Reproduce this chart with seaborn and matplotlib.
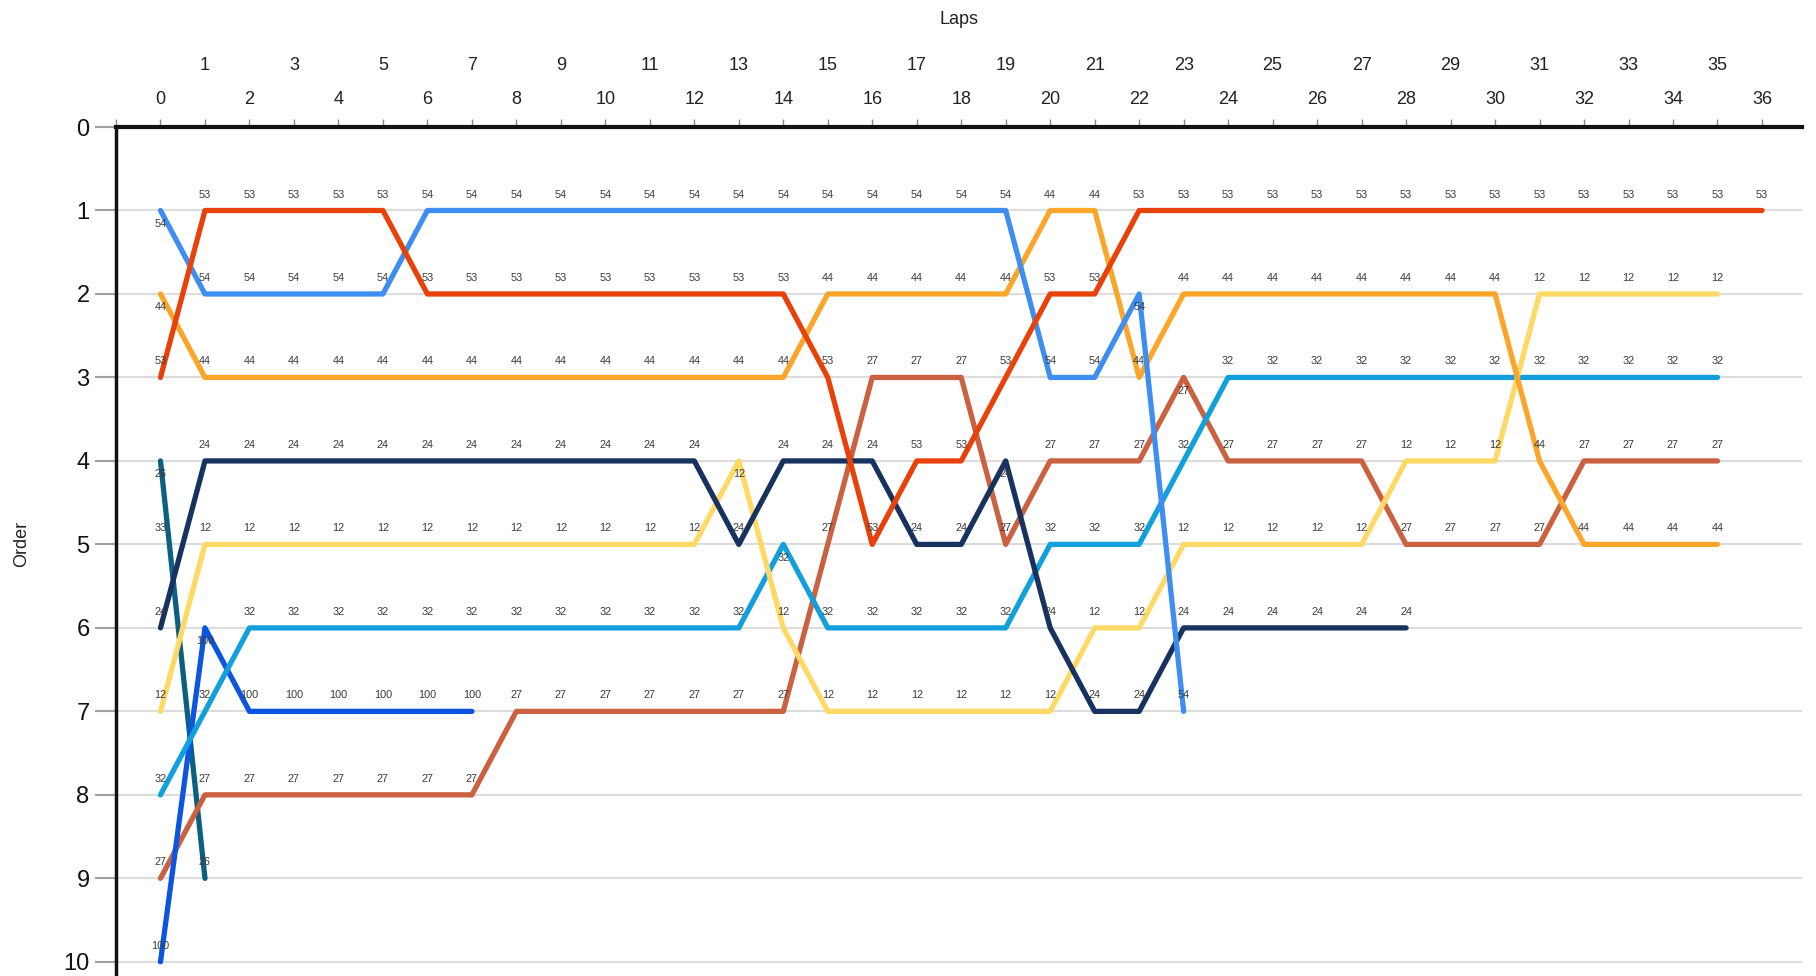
import numpy as np
import pandas as pd
import matplotlib
matplotlib.use("Agg")
import matplotlib.pyplot as plt
import seaborn as sns

# ---- data: race order per lap (lap index = list position, starting at lap 0)
drivers = ["33", "26", "27", "100", "32", "12", "24", "44", "54", "53"]
pos_53 = [3, 1, 1, 1, 1, 1, 2, 2, 2, 2, 2, 2, 2, 2, 2, 3, 5, 4, 4, 3, 2, 2, 1,
          1, 1, 1, 1, 1, 1, 1, 1, 1, 1, 1, 1, 1, 1]
pos_54 = [1, 2, 2, 2, 2, 2, 1, 1, 1, 1, 1, 1, 1, 1, 1, 1, 1, 1, 1, 1, 3, 3, 2, 7]
pos_44 = [2, 3, 3, 3, 3, 3, 3, 3, 3, 3, 3, 3, 3, 3, 3, 2, 2, 2, 2, 2, 1, 1, 3, 2,
          2, 2, 2, 2, 2, 2, 2, 4, 5, 5, 5, 5]
pos_24 = [6, 4, 4, 4, 4, 4, 4, 4, 4, 4, 4, 4, 4, 5, 4, 4, 4, 5, 5, 4, 6, 7, 7, 6,
          6, 6, 6, 6, 6]
pos_12 = [7, 5, 5, 5, 5, 5, 5, 5, 5, 5, 5, 5, 5, 4, 6, 7, 7, 7, 7, 7, 7, 6, 6, 5,
          5, 5, 5, 5, 4, 4, 4, 2, 2, 2, 2, 2]
pos_32 = [8, 7, 6, 6, 6, 6, 6, 6, 6, 6, 6, 6, 6, 6, 5, 6, 6, 6, 6, 6, 5, 5, 5, 4,
          3, 3, 3, 3, 3, 3, 3, 3, 3, 3, 3, 3]
pos_100 = [10, 6, 7, 7, 7, 7, 7, 7]
pos_27 = [9, 8, 8, 8, 8, 8, 8, 8, 7, 7, 7, 7, 7, 7, 7, 5, 3, 3, 3, 5, 4, 4, 4, 3,
          4, 4, 4, 4, 5, 5, 5, 5, 4, 4, 4, 4]
pos_26 = [4, 9]
pos_33 = [5]

positions = {"53": pos_53, "54": pos_54, "44": pos_44, "24": pos_24,
             "12": pos_12, "32": pos_32, "100": pos_100, "27": pos_27,
             "26": pos_26, "33": pos_33}

colors = {"53": "#E8410A", "54": "#3E8EF2", "44": "#F9A62B", "24": "#17325E",
          "12": "#FFD966", "32": "#12A0DD", "100": "#0B55E0", "27": "#CA6140",
          "26": "#0C5F80", "33": "#8a8a8a"}

lap_ticks_even = list(range(0, 37, 2))
lap_ticks_odd = list(range(-1, 36, 2))
order_ticks = list(range(0, 11))

rows = []
for d in drivers:
    for lap, p in enumerate(positions[d]):
        rows.append({"driver": d, "lap": lap, "order": p})
df = pd.DataFrame(rows)

# ---- style
sns.set_style("white")
plt.rcParams["font.family"] = ["Liberation Sans", "DejaVu Sans"]

W, H = 1816, 976
fig = plt.figure(figsize=(W / 100, H / 100), dpi=100)
ax = fig.add_axes([116 / W, 0, (1802 - 116) / W, 849 / H])

# gridlines
for o in order_ticks[1:]:
    ax.axhline(o, color="#dcdcdc", lw=1.5, zorder=0)

sns.lineplot(data=df, x="lap", y="order", hue="driver", hue_order=drivers,
             palette=colors, estimator=None, sort=False, lw=3.8, legend=False,
             ax=ax, solid_capstyle="round", solid_joinstyle="round", zorder=2)

# point labels
for d in drivers:
    p = positions[d]
    for i, o in enumerate(p):
        nb = []
        if i > 0:
            nb.append(p[i - 1])
        if i < len(p) - 1:
            nb.append(p[i + 1])
        below = len(nb) > 0 and all(n > o for n in nb)
        dy = -9.5 if below else 11.5
        ax.annotate(d, (i, o), xytext=(0, dy), textcoords="offset points",
                    ha="center", va="center", fontsize=7.8, color="#3a3a3a",
                    zorder=3)

ax.set_xlim(-1, 36.9)
ax.set_ylim(10.17, 0)

# top x axis with two staggered label rows
ax.xaxis.tick_top()
ax.xaxis.set_label_position("top")
ax.set_xticks(lap_ticks_even, labels=[str(v) for v in lap_ticks_even])
ax.set_xticks(lap_ticks_odd, labels=["" if v < 0 else str(v) for v in lap_ticks_odd],
              minor=True)
ax.tick_params(axis="x", which="major", top=True, bottom=False, labeltop=True,
               labelbottom=False, length=6, width=1, color="#888888", pad=8,
               labelsize=13, labelcolor="#222222")
ax.tick_params(axis="x", which="minor", top=True, bottom=False, labeltop=True,
               labelbottom=False, length=6, width=1, color="#888888", pad=32,
               labelsize=13, labelcolor="#222222")
ax.set_xlabel("Laps", fontsize=13, labelpad=24, color="#222222")

ax.set_yticks(order_ticks, labels=[str(v) for v in order_ticks])
ax.tick_params(axis="y", left=True, length=15, width=1.5, color="#a0a0a0",
               pad=4, labelsize=17, labelcolor="#111111")
ax.set_ylabel("Order", fontsize=13, color="#222222")
ax.yaxis.set_label_coords(-0.051, 0.509)

for s in ["right", "bottom"]:
    ax.spines[s].set_visible(False)
ax.spines["top"].set_linewidth(3)
ax.spines["top"].set_color("#111111")
ax.spines["left"].set_linewidth(2.5)
ax.spines["left"].set_color("#111111")

fig.savefig("out.png", dpi=100, facecolor="white")
